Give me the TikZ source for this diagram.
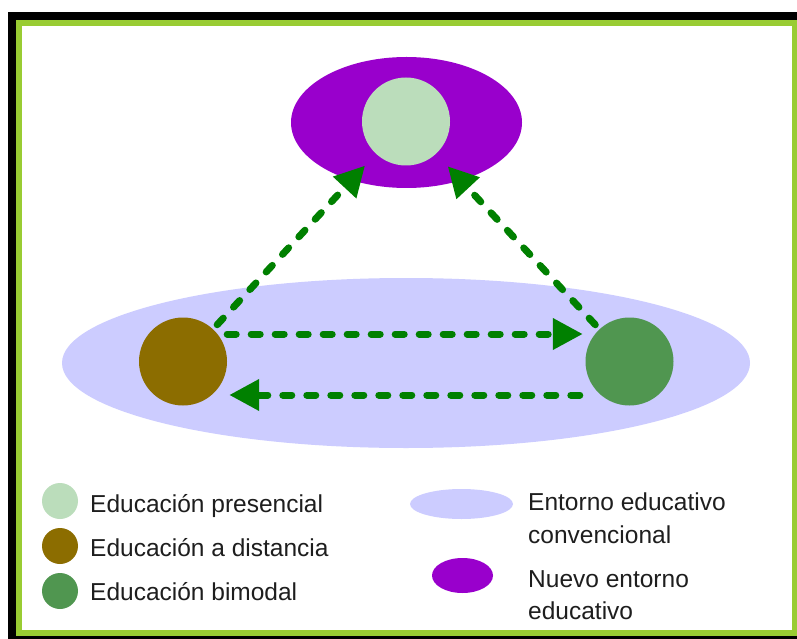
\documentclass[tikz,border=0pt]{standalone}
\usepackage{fontspec}
\setmainfont{Liberation Sans}
\usetikzlibrary{arrows.meta,shapes.geometric}
\definecolor{framegreen}{RGB}{153,204,51}
\definecolor{purpleenv}{RGB}{153,0,204}
\definecolor{lavender}{RGB}{204,204,255}
\definecolor{presgreen}{RGB}{187,221,187}
\definecolor{distbrown}{RGB}{140,109,0}
\definecolor{bimgreen}{RGB}{80,150,80}
\definecolor{arrowgreen}{RGB}{0,128,0}
\definecolor{txt}{RGB}{30,30,30}
\begin{document}
\begin{tikzpicture}[x=1pt,y=-1pt,
  dot/.style={circle,inner sep=0pt,minimum size=#1,draw=none},
  env/.style={ellipse,inner sep=0pt,draw=none},
  flow/.style={draw=arrowgreen,line width=7pt,line cap=round,
    dash pattern=on 9pt off 15pt,
    -{Triangle[length=30pt,width=30pt,fill=arrowgreen]}},
  legtext/.style={anchor=base west,inner sep=0pt,text=txt,
    font=\fontsize{24.5pt}{29pt}\selectfont}]
\useasboundingbox (0,0) rectangle (797,639);
% frame
\fill[black] (8,12) rectangle (797,639);
\fill[framegreen] (16,20) rectangle (797,636);
\fill[white] (22,26) rectangle (792,630);
% environments
\node[env,fill=purpleenv,minimum width=231pt,minimum height=131pt] (newenv) at (406.5,122.5) {};
\node[env,fill=lavender,minimum width=688pt,minimum height=170pt] (convenv) at (406,363) {};
% education types
\node[dot=88pt,fill=presgreen] (pres) at (406,121.5) {};
\node[dot=88pt,fill=distbrown] (dist) at (183,361.5) {};
\node[dot=88pt,fill=bimgreen] (bim) at (629.5,361.5) {};
% connectors
\draw[flow,shorten <=6pt,shorten >=16pt] (dist) -- (pres);
\draw[flow,shorten <=6pt,shorten >=17pt] (bim) -- (pres);
\draw[flow,shorten >=2.5pt] ([yshift=27.5pt]dist.east) -- ([yshift=27.5pt]bim.west);
\draw[flow,shorten <=5.5pt,shorten >=2pt] ([yshift=-33.5pt]bim.west) -- ([yshift=-33.5pt]dist.east);
% legend
\node[dot=36pt,fill=presgreen] (lpres) at (60,501) {};
\node[dot=36pt,fill=distbrown] (ldist) at (60,546) {};
\node[dot=36pt,fill=bimgreen] (lbim) at (60,591) {};
\node[legtext] (tpres) at (90,512) {Educación presencial};
\node[legtext] (tdist) at (90,556) {Educación a distancia};
\node[legtext] (tbim) at (90,600) {Educación bimodal};
\node[env,fill=lavender,minimum width=103pt,minimum height=30pt] (lconv) at (461.5,504) {};
\node[env,fill=purpleenv,minimum width=61pt,minimum height=35pt] (lnew) at (462.5,575.5) {};
\node[legtext] (tconv1) at (528,510) {Entorno educativo};
\node[legtext] (tconv2) at (528,543) {convencional};
\node[legtext] (tnew1) at (528,587) {Nuevo entorno};
\node[legtext] (tnew2) at (528,619) {educativo};
\end{tikzpicture}
\end{document}
